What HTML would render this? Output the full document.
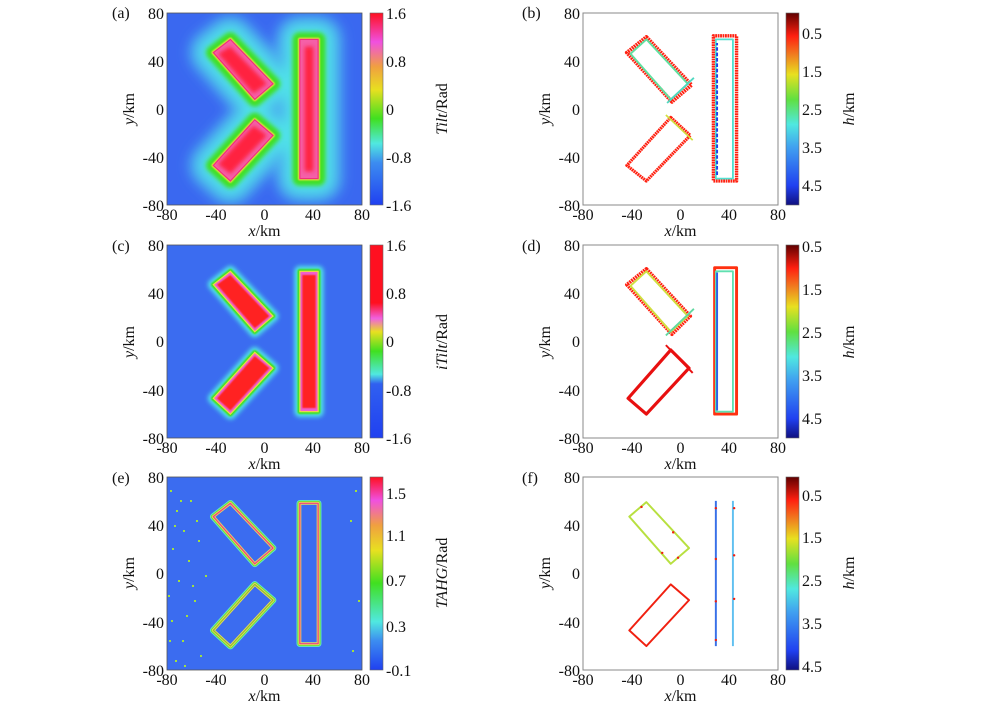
<!DOCTYPE html>
<html><head><meta charset="utf-8"><style>
html,body{margin:0;padding:0;background:#fff}
svg{display:block}
text{font-family:"Liberation Serif",serif;font-size:16px;fill:#111}
</style></head><body>
<svg width="1000" height="706" viewBox="0 0 1000 706" xmlns="http://www.w3.org/2000/svg">
<defs>
<g id="sh">
<polygon points="-28,58 7,21 -8,8 -42,47"/>
<polygon points="-8,-9 7,-22 -28,-60 -42,-47"/>
<rect x="29" y="-58" width="15" height="116"/>
</g>
<filter id="b1" x="-50%" y="-50%" width="200%" height="200%"><feGaussianBlur stdDeviation="5"/></filter>
<filter id="b2" x="-50%" y="-50%" width="200%" height="200%"><feGaussianBlur stdDeviation="1.8"/></filter>
<filter id="b3" x="-50%" y="-50%" width="200%" height="200%"><feGaussianBlur stdDeviation="0.7"/></filter>
<linearGradient id="gt" x1="0" y1="1" x2="0" y2="0">
<stop offset="0" stop-color="#2040f0"/><stop offset="0.22" stop-color="#3c8cf0"/><stop offset="0.32" stop-color="#50e8e0"/><stop offset="0.45" stop-color="#40e020"/><stop offset="0.6" stop-color="#e8e020"/><stop offset="0.72" stop-color="#f0a040"/><stop offset="0.85" stop-color="#f050e0"/><stop offset="1" stop-color="#ff1020"/></linearGradient>
<linearGradient id="gi" x1="0" y1="1" x2="0" y2="0">
<stop offset="0" stop-color="#2040f0"/><stop offset="0.28" stop-color="#3060f0"/><stop offset="0.33" stop-color="#50e8e0"/><stop offset="0.45" stop-color="#40e020"/><stop offset="0.55" stop-color="#e8e020"/><stop offset="0.62" stop-color="#f060e0"/><stop offset="0.7" stop-color="#ff1020"/><stop offset="1" stop-color="#ff1020"/></linearGradient>
<linearGradient id="ge" x1="0" y1="1" x2="0" y2="0">
<stop offset="0" stop-color="#2040f0"/><stop offset="0.15" stop-color="#3c8cf0"/><stop offset="0.25" stop-color="#50e8e0"/><stop offset="0.45" stop-color="#40e020"/><stop offset="0.62" stop-color="#e8e020"/><stop offset="0.75" stop-color="#f0a040"/><stop offset="0.88" stop-color="#f050e0"/><stop offset="1" stop-color="#ff1020"/></linearGradient>
<linearGradient id="gh" x1="0" y1="1" x2="0" y2="0">
<stop offset="0" stop-color="#101080"/><stop offset="0.1" stop-color="#2040f0"/><stop offset="0.3" stop-color="#40a0f0"/><stop offset="0.42" stop-color="#50e8e0"/><stop offset="0.55" stop-color="#60e040"/><stop offset="0.68" stop-color="#e8e020"/><stop offset="0.78" stop-color="#f08020"/><stop offset="0.88" stop-color="#ff2010"/><stop offset="1" stop-color="#600000"/></linearGradient>
</defs>

<!-- (a) -->
<rect x="167" y="13" width="195" height="192" fill="#3a68f0"/>
<svg x="167" y="13" width="195" height="192" overflow="hidden">
<g transform="translate(97.5,96) scale(1.219,-1.2)">
<use href="#sh" fill="#4aa8f0" stroke="#4aa8f0" stroke-width="40" stroke-linejoin="round" filter="url(#b1)"/>
<use href="#sh" fill="#50e0e8" stroke="#50e0e8" stroke-width="26" stroke-linejoin="round" filter="url(#b1)"/>
<use href="#sh" fill="#40e020" stroke="#40e020" stroke-width="12" stroke-linejoin="round" filter="url(#b2)"/>
<use href="#sh" fill="#e8e040" stroke="#e8e040" stroke-width="3" stroke-linejoin="round" filter="url(#b3)"/>
<use href="#sh" fill="#f560a8" stroke="#f03080" stroke-width="1"/>
<g fill="#ff2040" filter="url(#b2)"><polygon points="-28,52 2,21 -9,13 -38,46"/><polygon points="-9,-14 2,-22 -28,-54 -38,-46"/><rect x="33" y="-52" width="7" height="104"/></g>
</g></svg>

<!-- (c) -->
<rect x="167" y="245" width="195" height="193" fill="#3b6cf0"/>
<svg x="167" y="245" width="195" height="193" overflow="hidden">
<g transform="translate(97.5,96.5) scale(1.219,-1.21)">
<use href="#sh" fill="#50e0e8" stroke="#50e0e8" stroke-width="9" stroke-linejoin="round" filter="url(#b2)"/>
<use href="#sh" fill="#40e020" stroke="#40e020" stroke-width="4" stroke-linejoin="round" filter="url(#b3)"/>
<use href="#sh" fill="#f060d0" stroke="#e8e040" stroke-width="1"/>
<g fill="#ff2020" filter="url(#b3)"><polygon points="-28,55 4,21 -8,11 -39,47"/><polygon points="-8,-12 4,-22 -28,-57 -39,-47"/><rect x="31" y="-55" width="11" height="110"/></g>
</g></svg>

<!-- (e) -->
<rect x="167" y="477" width="195" height="193" fill="#3b6cf0"/>
<g fill="#a0e040">
<rect x="170" y="490" width="2" height="2"/><rect x="176" y="510" width="2" height="2"/><rect x="183" y="530" width="2" height="2"/><rect x="172" y="548" width="2" height="2"/><rect x="188" y="560" width="2" height="2"/><rect x="178" y="580" width="2" height="2"/><rect x="194" y="600" width="2" height="2"/><rect x="171" y="620" width="2" height="2"/><rect x="182" y="640" width="2" height="2"/><rect x="175" y="660" width="2" height="2"/><rect x="190" y="500" width="2" height="2"/><rect x="198" y="540" width="2" height="2"/><rect x="186" y="615" width="2" height="2"/><rect x="200" y="655" width="2" height="2"/><rect x="168" y="595" width="2" height="2"/><rect x="205" y="575" width="2" height="2"/><rect x="180" y="500" width="2" height="2"/><rect x="355" y="490" width="2" height="2"/><rect x="350" y="520" width="2" height="2"/><rect x="358" y="600" width="2" height="2"/><rect x="352" y="650" width="2" height="2"/>
<rect x="174" y="525" width="2" height="2"/><rect x="192" y="585" width="2" height="2"/><rect x="169" y="640" width="2" height="2"/><rect x="184" y="665" width="2" height="2"/><rect x="196" y="520" width="2" height="2"/>
</g>
<svg x="167" y="477" width="195" height="193" overflow="hidden">
<g transform="translate(97.5,96.5) scale(1.219,-1.21)" fill="#3b6cf0" stroke-linejoin="round">
<use href="#sh" stroke="#60e0d0" stroke-width="5.5"/>
<use href="#sh" stroke="#70e030" stroke-width="4"/>
<use href="#sh" stroke="#e8d860" stroke-width="2.4"/>
<g stroke="#f04080" stroke-width="1" fill="none"><polygon points="-28,58 7,21 -8,8 -42,47"/><rect x="29" y="-58" width="15" height="116"/></g>
<g stroke="#90c030" stroke-width="1" fill="none"><polygon points="-8,-9 7,-22 -28,-60 -42,-47"/></g>
</g></svg>

<!-- (b) -->
<svg x="583" y="13" width="195" height="192" overflow="hidden">
<g transform="translate(97.5,96) scale(1.219,-1.2)" fill="none" stroke-linejoin="round">
<polygon points="-28,60 9,20 -7,6 -44,47" stroke="#ff2010" stroke-width="3.2" stroke-dasharray="1.5 0.6"/>
<polygon points="-28,58 6,21 -8,8 -41,46" stroke="#60e0a0" stroke-width="1.6"/>
<line x1="-11" y1="5" x2="11" y2="26" stroke="#50d8c0" stroke-width="1.5"/>
<polygon points="-8,-7 8,-22 -28,-60 -44,-47" stroke="#ff2010" stroke-width="2.6" stroke-dasharray="1.5 0.5"/>
<line x1="-12" y1="-5" x2="10" y2="-26" stroke="#d0e040" stroke-width="1.4"/>
<rect x="27" y="-60" width="19" height="121" stroke="#ff2010" stroke-width="2.8" stroke-dasharray="1.5 0.5"/>
<rect x="29" y="-58" width="14" height="116" stroke="#50e0d0" stroke-width="1.5"/>
<line x1="30" y1="-55" x2="30" y2="55" stroke="#2040e8" stroke-width="1.6" stroke-dasharray="3 1.5"/>
</g></svg>
<rect x="583" y="13" width="195" height="192" fill="none" stroke="#888" stroke-width="1"/>

<!-- (d) -->
<svg x="583" y="245" width="195" height="193" overflow="hidden">
<g transform="translate(97.5,96.5) scale(1.219,-1.21)" fill="none" stroke-linejoin="round">
<polygon points="-28,60 8,21 -7,6 -44,47" stroke="#ff2010" stroke-width="3" stroke-dasharray="1.5 0.6"/>
<polygon points="-28,58 6,21 -8,8 -41,46" stroke="#d0e040" stroke-width="1.6"/>
<line x1="-12" y1="5" x2="11" y2="27" stroke="#60d8a0" stroke-width="1.5"/>
<polygon points="-8,-7 7,-22 -28,-60 -43,-47" stroke="#e81010" stroke-width="2.6"/>
<line x1="-12" y1="-3" x2="10" y2="-26" stroke="#e81010" stroke-width="1.6"/>
<rect x="28" y="-60" width="18" height="121" stroke="#ff3010" stroke-width="2.4"/>
<rect x="29" y="-58" width="14" height="116" stroke="#60e0b0" stroke-width="1.5"/>
<line x1="30" y1="-57" x2="30" y2="57" stroke="#3060e8" stroke-width="1.6"/>
</g></svg>
<rect x="583" y="245" width="195" height="193" fill="none" stroke="#888" stroke-width="1"/>

<!-- (f) -->
<svg x="583" y="477" width="195" height="193" overflow="hidden">
<g transform="translate(97.5,96.5) scale(1.219,-1.21)" fill="none" stroke-linejoin="round">
<polygon points="-28,59 7,21 -8,8 -42,47" stroke="#b8e040" stroke-width="1.6"/>
<polygon points="-8,-9 7,-22 -28,-60 -42,-47" stroke="#f02010" stroke-width="1.6"/>
<line x1="29" y1="-60" x2="29" y2="60" stroke="#3870e8" stroke-width="1.6"/>
<line x1="43" y1="-60" x2="43" y2="60" stroke="#60c0f0" stroke-width="1.6"/>
<g fill="#f02010" stroke="none"><circle cx="-6" cy="34" r="1"/><circle cx="-15" cy="17" r="1"/><circle cx="-2" cy="13" r="1"/><circle cx="29" cy="12" r="1"/><circle cx="29" cy="-23" r="1"/><circle cx="44" cy="15" r="1"/><circle cx="44" cy="-21" r="1"/><circle cx="29" cy="54" r="1"/><circle cx="44" cy="54" r="1"/><circle cx="29" cy="-55" r="1"/><circle cx="-32" cy="55" r="1"/></g>
</g></svg>
<rect x="583" y="477" width="195" height="193" fill="none" stroke="#888" stroke-width="1"/>

<!-- colorbars -->
<rect x="370" y="13" width="13" height="192" fill="url(#gt)" stroke="#666" stroke-width="0.6"/>
<rect x="370" y="245" width="13" height="193" fill="url(#gi)" stroke="#666" stroke-width="0.6"/>
<rect x="370" y="477" width="13" height="193" fill="url(#ge)" stroke="#666" stroke-width="0.6"/>
<rect x="786" y="13" width="13" height="192" fill="url(#gh)" stroke="#666" stroke-width="0.6"/>
<rect x="786" y="245" width="13" height="193" fill="url(#gh)" stroke="#666" stroke-width="0.6"/>
<rect x="786" y="477" width="13" height="193" fill="url(#gh)" stroke="#666" stroke-width="0.6"/>

<g fill="none" stroke="#555" stroke-width="0.8">
<rect x="167" y="13" width="195" height="192"/><rect x="167" y="245" width="195" height="193"/><rect x="167" y="477" width="195" height="193"/>
</g>

<g text-anchor="end">
<text x="164" y="19">80</text><text x="164" y="67">40</text><text x="164" y="115">0</text><text x="164" y="163">-40</text><text x="164" y="211">-80</text>
<text x="164" y="251">80</text><text x="164" y="299">40</text><text x="164" y="347">0</text><text x="164" y="396">-40</text><text x="164" y="444">-80</text>
<text x="164" y="483">80</text><text x="164" y="531">40</text><text x="164" y="579">0</text><text x="164" y="628">-40</text><text x="164" y="676">-80</text>
<text x="580" y="19">80</text><text x="580" y="67">40</text><text x="580" y="115">0</text><text x="580" y="163">-40</text><text x="580" y="211">-80</text>
<text x="580" y="251">80</text><text x="580" y="299">40</text><text x="580" y="347">0</text><text x="580" y="396">-40</text><text x="580" y="444">-80</text>
<text x="580" y="483">80</text><text x="580" y="531">40</text><text x="580" y="579">0</text><text x="580" y="628">-40</text><text x="580" y="676">-80</text>
</g>
<g text-anchor="middle">
<text x="167" y="220">-80</text><text x="216" y="220">-40</text><text x="264.5" y="220">0</text><text x="313" y="220">40</text><text x="362" y="220">80</text>
<text x="167" y="453">-80</text><text x="216" y="453">-40</text><text x="264.5" y="453">0</text><text x="313" y="453">40</text><text x="362" y="453">80</text>
<text x="167" y="685">-80</text><text x="216" y="685">-40</text><text x="264.5" y="685">0</text><text x="313" y="685">40</text><text x="362" y="685">80</text>
<text x="583" y="220">-80</text><text x="632" y="220">-40</text><text x="680.5" y="220">0</text><text x="729" y="220">40</text><text x="778" y="220">80</text>
<text x="583" y="453">-80</text><text x="632" y="453">-40</text><text x="680.5" y="453">0</text><text x="729" y="453">40</text><text x="778" y="453">80</text>
<text x="583" y="685">-80</text><text x="632" y="685">-40</text><text x="680.5" y="685">0</text><text x="729" y="685">40</text><text x="778" y="685">80</text>
<text x="264.5" y="236"><tspan font-style="italic">x</tspan>/km</text>
<text x="264.5" y="469"><tspan font-style="italic">x</tspan>/km</text>
<text x="264.5" y="701"><tspan font-style="italic">x</tspan>/km</text>
<text x="680.5" y="236"><tspan font-style="italic">x</tspan>/km</text>
<text x="680.5" y="469"><tspan font-style="italic">x</tspan>/km</text>
<text x="680.5" y="701"><tspan font-style="italic">x</tspan>/km</text>
<text transform="translate(134,109) rotate(-90)"><tspan font-style="italic">y</tspan>/km</text>
<text transform="translate(134,342) rotate(-90)"><tspan font-style="italic">y</tspan>/km</text>
<text transform="translate(134,573) rotate(-90)"><tspan font-style="italic">y</tspan>/km</text>
<text transform="translate(550,109) rotate(-90)"><tspan font-style="italic">y</tspan>/km</text>
<text transform="translate(550,342) rotate(-90)"><tspan font-style="italic">y</tspan>/km</text>
<text transform="translate(550,573) rotate(-90)"><tspan font-style="italic">y</tspan>/km</text>
<text transform="translate(447,109) rotate(-90)" font-size="17"><tspan font-style="italic">Tilt</tspan>/Rad</text>
<text transform="translate(447,342) rotate(-90)" font-size="17"><tspan font-style="italic">iTilt</tspan>/Rad</text>
<text transform="translate(447,573) rotate(-90)" font-size="17"><tspan font-style="italic">TAHG</tspan>/Rad</text>
<text transform="translate(854,109) rotate(-90)" font-size="17"><tspan font-style="italic">h</tspan>/km</text>
<text transform="translate(854,342) rotate(-90)" font-size="17"><tspan font-style="italic">h</tspan>/km</text>
<text transform="translate(854,573) rotate(-90)" font-size="17"><tspan font-style="italic">h</tspan>/km</text>
</g>

<g>
<text x="386" y="19">1.6</text><text x="386" y="67">0.8</text><text x="386" y="115">0</text><text x="386" y="163">-0.8</text><text x="386" y="211">-1.6</text>
<text x="386" y="251">1.6</text><text x="386" y="299">0.8</text><text x="386" y="347">0</text><text x="386" y="396">-0.8</text><text x="386" y="444">-1.6</text>
<text x="386" y="499">1.5</text><text x="386" y="541">1.1</text><text x="386" y="586">0.7</text><text x="386" y="632">0.3</text><text x="386" y="676">-0.1</text>
<text x="802" y="39">0.5</text><text x="802" y="77">1.5</text><text x="802" y="115">2.5</text><text x="802" y="153">3.5</text><text x="802" y="191">4.5</text>
<text x="802" y="252">0.5</text><text x="802" y="295">1.5</text><text x="802" y="338">2.5</text><text x="802" y="381">3.5</text><text x="802" y="424">4.5</text>
<text x="802" y="501">0.5</text><text x="802" y="543">1.5</text><text x="802" y="586">2.5</text><text x="802" y="629">3.5</text><text x="802" y="672">4.5</text>
</g>

<g font-size="16">
<text x="112" y="18">(a)</text><text x="522" y="18">(b)</text>
<text x="112" y="251">(c)</text><text x="522" y="251">(d)</text>
<text x="112" y="483">(e)</text><text x="522" y="483">(f)</text>
</g>
</svg>
</body></html>
